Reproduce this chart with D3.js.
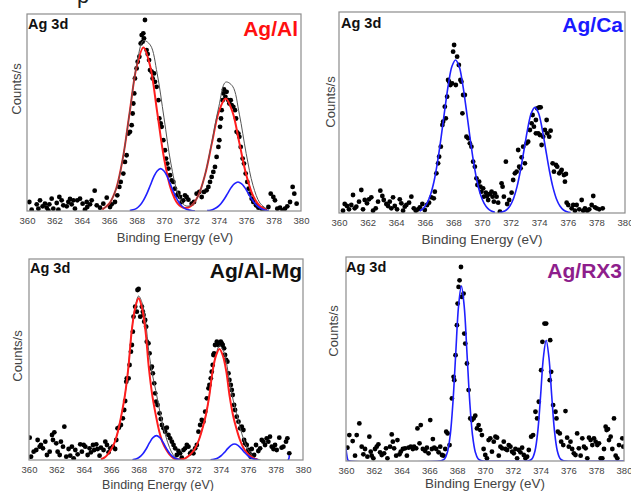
<!DOCTYPE html>
<html>
<head>
<meta charset="utf-8">
<script src="https://cdn.jsdelivr.net/npm/d3@7"></script>
<style>
  body { margin: 0; background: #fff; }
  svg { display: block; font-family: "Liberation Sans", Arial, sans-serif; }
</style>
</head>
<body>
<script>
// Binding energy ticks, shared by all four panels
const xTicks = d3.range(360, 381, 2)

// ---- Ag/Al ----  [eV, counts (arb.)]
const alPoints = [
  [360.17,27],[360.34,4],[360.71,20],[360.83,7],[360.95,32],[361.14,14],[361.31,22],[361.44,10],
  [361.56,2],[361.63,20],[361.80,37],[361.92,7],[362.17,24],[362.29,4],[362.36,42],[362.53,32],
  [362.65,17],[362.90,14],[363.02,27],[363.14,36],[363.26,20],[363.38,32],[363.50,7],[363.67,32],
  [363.87,37],[364.06,22],[364.23,4],[364.36,27],[364.40,12],[364.60,20],[364.72,32],[364.94,61],
  [365.09,17],[365.33,10],[365.57,22],[365.82,40],[366.06,12],
  [366.18,20],[366.42,27],[366.59,47],[366.74,72],[366.84,87],[367.03,112],[367.15,147],[367.27,167],
  [367.40,232],[367.52,237],[367.64,257],[367.71,292],[367.76,322],[367.83,352],[367.88,397],[368.00,427],
  [368.08,447],[368.20,462],[368.30,502],[368.37,527],[368.44,507],[368.49,532],[368.54,517],[368.61,572],
  [368.73,482],[368.81,470],[368.91,452],[368.98,422],[369.10,417],[369.17,397],[369.27,412],[369.34,387],
  [369.46,372],[369.59,332],[369.66,277],[369.76,262],[369.83,252],[369.95,212],[370.07,182],[370.15,157],
  [370.24,142],[370.32,127],[370.44,107],[370.56,92],[370.68,87],[370.80,67],[370.92,47],[371.05,54],
  [371.17,42],[371.29,27],[371.41,32],[371.53,47],[371.65,42],
  [371.78,34],[372.02,22],[372.19,27],[372.38,52],[372.58,57],[372.75,42],[372.92,57],[373.11,62],
  [373.24,72],[373.36,87],[373.48,102],[373.60,117],[373.72,132],[373.84,162],[373.97,192],[374.04,212],
  [374.09,252],[374.16,277],[374.21,302],[374.28,332],[374.33,352],[374.38,364],[374.48,342],[374.57,357],
  [374.70,332],[374.77,322],[374.87,332],[374.94,317],[375.06,312],[375.18,302],[375.26,277],[375.30,237],
  [375.43,232],[375.50,222],[375.60,192],[375.74,157],[375.84,142],[375.96,112],[376.08,87],[376.18,67],
  [376.28,52],[376.40,37],[376.52,27],[376.72,17],[376.89,10],
  [377.13,7],[377.37,2],[377.62,12],[377.79,52],[377.98,42],[378.10,32],[378.27,7],[378.47,10],
  [378.66,2],[378.83,7],[379.00,14],[379.20,27],[379.39,72],[379.51,52],[379.68,22]
]
const alRed = [
  [365.5,5],[366,22],[366.5,66],[367,159],[367.5,297],[368,432],[368.5,490],[369,432],[369.5,297],
  [370,159],[370.5,66],[371,22],[371.5,9],[372,16],[372.5,46],[373,109],[373.5,204],[374,297],
  [374.5,337],[375,297],[375.5,204],[376,109],[376.5,46],[377,15],[377.5,4]
]
const alBlue1 = [
  [367.5,1.4],[367.75,3.6],[368,8],[368.25,17],[368.5,32],[368.75,52],[369,77],[369.25,102],[369.5,120],
  [369.75,127],[370,120],[370.25,102],[370.5,77],[370.75,52],[371,32],[371.25,17],[371.5,8],[371.75,3.6],
  [372,1.4],[372.25,0.5]
]
const alBlue2 = [
  [373.15,1],[373.4,2.5],[373.65,6],[373.9,12],[374.15,22],[374.4,36],[374.65,53],[374.9,70],[375.15,82],
  [375.4,87],[375.65,82],[375.9,70],[376.15,53],[376.4,36],[376.65,22],[376.9,12],[377.15,6],[377.4,2.5],
  [377.65,1]
]
const alEnvelope = [
  [365.5,5],[366,22],[366.5,66],[367,159],[367.5,298],[368,436],[368.5,510],[369,497],[369.5,412],
  [370,279],[370.5,143],[371,54],[371.5,17],[372,17],[372.5,46],[373,110],[373.5,208],[374,312],
  [374.5,386],[375,374],[375.5,290],[376,172],[376.5,76],[377,24],[377.5,6]
]

// ---- Ag/Ca ----
const caPoints = [
  [360.28,7],[360.40,27],[360.56,21],[360.70,11],[360.86,24],[360.98,54],[361.10,14],[361.21,19],
  [361.40,34],[361.56,69],[361.68,11],[361.80,39],[361.96,29],[362.10,41],[362.26,47],[362.38,7],
  [362.57,14],[362.73,34],[362.89,67],[363.03,51],[363.13,39],[363.31,27],[363.43,21],[363.55,34],
  [363.66,14],[363.78,47],[363.90,21],[364.06,11],[364.25,41],[364.36,29],[364.48,7],[364.60,19],
  [364.71,24],[364.90,31],[365.06,49],[365.23,14],[365.37,7],[365.53,11],[365.65,17],[365.83,27],
  [366.00,9],
  [366.16,24],[366.30,31],[366.46,47],[366.63,44],[366.70,64],[366.81,119],[366.93,149],[367.00,169],
  [367.12,199],[367.23,264],[367.28,274],[367.40,319],[367.47,284],[367.56,349],[367.63,399],[367.70,394],
  [367.79,384],[367.91,389],[367.98,484],[368.05,504],[368.17,384],[368.26,469],[368.38,444],[368.49,399],
  [368.56,394],[368.63,299],[368.68,354],[368.80,354],[368.91,229],[369.03,224],[369.15,209],[369.26,199],
  [369.38,154],[369.50,139],[369.61,104],[369.68,84],[369.80,94],[369.89,79],[369.96,64],[370.08,74],
  [370.13,49],[370.27,61],[370.36,51],[370.43,39],[370.55,57],[370.67,64],[370.74,49],[370.83,34],
  [370.90,59],[371.02,49],[371.13,31],[371.25,4],[371.37,89],[371.44,79],[371.53,49],[371.67,154],
  [371.76,27],[371.90,39],
  [372.07,61],[372.18,99],[372.30,119],[372.42,124],[372.53,189],[372.60,139],[372.70,134],[372.77,167],
  [372.88,199],[373.00,149],[373.12,209],[373.23,214],[373.35,249],[373.47,269],[373.54,294],[373.63,259],
  [373.77,279],[373.77,239],[373.86,314],[373.93,239],[374.00,317],[374.05,234],[374.10,317],[374.17,204],
  [374.28,229],[374.40,249],[374.52,279],[374.56,239],[374.70,229],[374.80,247],[374.94,149],[375.03,124],
  [375.17,144],[375.26,139],[375.40,119],[375.50,124],[375.57,129],[375.73,114],[375.80,94],[375.87,117],
  [375.92,31],[376.03,24],[376.27,14],[376.38,24],[376.50,7],[376.62,24],[376.80,11],[376.97,39],
  [377.08,7],[377.20,14],[377.36,7],[377.50,11],[377.67,24],[377.78,51],[377.90,17],[378.02,14],
  [378.20,11],[378.44,14]
]
const caBlue1 = [
  [365.65,6],[365.9,14],[366.15,29],[366.4,55],[366.65,96],[366.9,156],[367.15,230],[367.4,311],
  [367.65,386],[367.9,440],[368.15,459],[368.4,440],[368.65,386],[368.9,311],[369.15,230],[369.4,156],
  [369.65,96],[369.9,55],[370.15,29],[370.4,14],[370.65,6],[370.9,2.4]
]
const caBlue2 = [
  [371.2,1.2],[371.45,3.5],[371.7,9],[371.95,21],[372.2,43],[372.45,79],[372.7,130],[372.95,192],
  [373.2,254],[373.45,300],[373.7,317],[373.95,300],[374.2,254],[374.45,192],[374.7,130],[374.95,79],
  [375.2,43],[375.45,21],[375.7,9],[375.95,3.5],[376.2,1.2]
]

// ---- Ag/Al-Mg ----
const mgPoints = [
  [360.05,67],[360.15,10],[360.34,25],[360.53,30],[360.63,60],[360.78,40],[360.87,45],[361.02,35],
  [361.19,55],[361.31,15],[361.51,25],[361.68,75],[361.75,60],[361.85,83],[361.99,50],[362.09,25],
  [362.24,15],[362.33,55],[362.48,40],[362.58,100],[362.72,10],[362.89,33],[363.01,13],[363.13,40],
  [363.26,5],[363.38,30],[363.55,17],[363.74,47],[363.86,25],[363.99,45],[364.11,40],[364.28,15],
  [364.42,35],[364.52,23],[364.67,45],[364.76,30],[364.91,47],[365.01,33],[365.15,13],[365.25,37],
  [365.44,30],[365.57,55],[365.69,45],[365.81,23],[365.93,35],[366.12,40],[366.29,33],
  [366.37,60],[366.46,95],[366.56,97],[366.71,105],[366.85,125],[366.95,150],[367.02,177],[367.10,235],
  [367.14,245],[367.27,245],[367.34,285],[367.44,325],[367.51,345],[367.58,385],[367.63,430],[367.75,460],
  [367.87,445],[367.92,510],[368.00,513],[368.12,430],[368.24,460],[368.31,445],[368.36,435],[368.41,415],
  [368.48,420],[368.55,400],[368.60,355],[368.72,350],[368.80,320],[368.89,275],[368.97,280],[369.04,260],
  [369.14,230],[369.21,200],[369.28,175],[369.38,165],[369.53,140],[369.62,123],[369.70,105],[369.82,95],
  [369.94,85],[370.06,97],[370.18,75],[370.30,65],[370.43,55],[370.55,45],[370.67,35],[370.79,15],
  [370.91,27],[371.03,20],[371.15,7],
  [371.28,30],[371.40,35],[371.52,45],[371.64,40],[371.76,20],[371.88,25],[372.00,20],[372.13,35],
  [372.25,45],
  [372.37,85],[372.49,105],[372.61,120],[372.73,115],[372.86,145],[372.98,185],[373.10,215],[373.17,225],
  [373.27,245],[373.34,265],[373.41,285],[373.46,315],[373.51,320],[373.58,345],[373.71,355],[373.83,345],
  [373.90,350],[374.00,355],[374.07,350],[374.14,345],[374.24,335],[374.31,315],[374.39,300],[374.48,295],
  [374.56,260],[374.63,240],[374.73,225],[374.80,210],[374.87,195],[374.97,165],[375.04,150],[375.16,130],
  [375.29,115],[375.41,95],[375.53,100],[375.65,90],[375.70,60],[375.77,50],[375.89,45],[376.01,30],
  [376.09,20],[376.18,10],[376.26,33],
  [376.43,15],[376.57,45],[376.74,27],[376.87,35],[376.99,60],[377.11,55],[377.23,45],[377.35,65],
  [377.47,55],[377.59,70],[377.72,40],[377.84,33],[377.96,45],[378.08,30],[378.27,67],[378.44,37],
  [378.57,40],[378.76,55],[378.86,65],[379.00,20]
]
const mgRed = [
  [365.25,2],[365.5,7],[365.75,17],[366,32],[366.25,53],[366.5,87],[366.75,136],[367,194],[367.25,276],
  [367.5,388],[367.75,456],[368,485],[368.25,456],[368.5,388],[368.75,276],[369,194],[369.25,136],
  [369.5,87],[369.75,53],[370,32],[370.25,17],[370.5,7],[370.75,2],[371.15,2],[371.4,5],[371.65,12],
  [371.9,22],[372.15,37],[372.4,60],[372.65,93],[372.9,133],[373.15,190],[373.4,266],[373.65,313],
  [373.9,333],[374.15,313],[374.4,266],[374.65,190],[374.9,133],[375.15,93],[375.4,60],[375.65,37],
  [375.9,22],[376.15,12],[376.4,5],[376.65,2]
]
const mgBlue1 = [
  [367.55,1],[367.8,3.2],[368.05,8.3],[368.3,18],[368.55,33],[368.8,52],[369.05,67],[369.3,73],
  [369.55,67],[369.8,52],[370.05,33],[370.3,18],[370.55,8.3],[370.8,3.2],[371.05,1]
]
const mgBlue2 = [
  [373.25,0.7],[373.5,2.1],[373.75,5.5],[374,12],[374.25,22],[374.5,34],[374.75,44],[375,48],
  [375.25,44],[375.5,34],[375.75,22],[376,12],[376.25,5.5],[376.5,2.1],[376.75,0.7]
]
const mgBlue3 = [[378.9,0],[378.97,4],[379.0,14]]
const mgEnvelope = [
  [365.25,2],[365.5,7],[365.75,17],[366,32],[366.25,53],[366.5,87],[366.75,136],[367,194],[367.25,276],
  [367.5,389],[367.75,459],[368,492],[368.25,472],[368.5,418],[368.75,324],[369,258],[369.25,209],
  [369.5,156],[369.75,108],[370,69],[370.25,38],[370.5,17],[370.75,6],[371,2],[371.4,5],[371.65,12],
  [371.9,22],[372.15,37],[372.4,60],[372.65,93],[372.9,133],[373.15,190],[373.4,267],[373.65,317],
  [373.9,342],[374.15,331],[374.4,295],[374.65,230],[374.9,180],[375.15,140],[375.4,98],[375.65,64],
  [375.9,38],[376.15,20],[376.4,8],[376.65,3],[376.9,0.5]
]

// ---- Ag/RX3 ----
const rxPoints = [
  [360.10,40],[360.24,78],[360.48,60],[360.65,16],[360.77,78],[360.96,113],[361.13,43],[361.25,20],
  [361.37,36],[361.54,13],[361.68,73],[361.78,28],[361.85,16],[361.97,8],[362.09,36],[362.21,43],
  [362.33,50],[362.45,26],[362.57,18],[362.74,23],[362.88,38],[362.98,8],[363.17,43],[363.29,80],
  [363.37,58],[363.46,38],[363.61,16],[363.70,63],[363.85,20],[363.94,28],[364.09,36],[364.25,38],
  [364.38,16],[364.50,40],[364.66,43],[364.81,36],[364.90,43],[365.05,38],[365.14,98],[365.29,53],
  [365.38,108],[365.53,36],[365.70,30],[365.82,40],[365.94,23],[366.06,123],[366.18,36],[366.25,66],
  [366.35,40],[366.49,36],[366.66,26],[366.78,43],[366.90,18],[367.02,16],
  [367.14,36],[367.21,88],[367.31,83],[367.45,48],[367.62,188],[367.74,253],[367.79,243],[367.88,318],
  [367.98,408],[368.03,473],[368.10,523],[368.17,543],[368.27,583],[368.34,493],[368.46,503],[368.51,383],
  [368.58,353],[368.70,293],[368.82,213],[368.94,128],[369.06,123],[369.18,128],[369.30,136],[369.42,98],
  [369.54,108],[369.66,93],[369.78,78],[369.90,36],[370.02,18],[370.14,8],[370.26,63],[370.38,68],
  [370.50,28],[370.63,58],[370.75,73],[370.87,70],[370.99,16],[371.11,43],[371.23,38],[371.35,58],
  [371.47,36],[371.59,33],[371.71,48],[371.83,43],[371.95,28],[372.07,23],[372.19,36],[372.31,8],
  [372.43,33],[372.55,26],[372.67,40],[372.79,18],[372.91,8],[373.03,13],[373.15,33],
  [373.32,73],[373.46,78],[373.63,148],[373.75,128],[373.87,178],[374.04,273],[374.13,358],[374.28,413],
  [374.40,413],[374.69,363],[374.76,268],[374.66,243],[374.90,168],[375.07,148],[375.14,128],[375.24,88],
  [375.38,83],[375.48,58],[375.63,48],[375.79,150],[375.91,70],[376.03,43],[376.15,58],[376.27,36],
  [376.39,23],[376.51,18],[376.63,83],[376.75,38],[376.88,16],[377.00,68],[377.12,43],[377.24,38],
  [377.36,8],[377.48,70],[377.60,63],[377.72,48],[377.84,68],[377.96,58],[378.08,48],[378.20,53],
  [378.32,8],[378.44,8],[378.56,36],[378.68,103],[378.75,93],[378.85,96],[378.92,63],[379.04,73],
  [379.16,36],[379.28,128],[379.40,16],[379.52,8],[379.64,48],[379.88,68],[379.95,43]
]
const rxBlue = [
  [360,38],[360.05,20],[360.1,8],[360.15,2],[360.25,0],[366.7,0],[366.9,1.5],[367.1,7],[367.3,27],
  [367.5,78],[367.7,180],[367.9,327],[368.1,467],[368.3,526],[368.5,467],[368.7,327],[368.9,180],
  [369.1,78],[369.3,27],[369.5,7],[369.7,1.5],[369.9,0],[373,0],[373.2,1.4],[373.4,7.6],[373.6,31],
  [373.8,90],[374,196],[374.2,311],[374.4,363],[374.6,311],[374.8,196],[375,90],[375.2,31],[375.4,7.6],
  [375.6,1.4],[375.8,0],[380,0]
]

const red = "#ff1e1e", blue = "#2020ff", envColor = "#555"

// frame geometry and text placement for each panel
const panels = [
  { id: "al", left: 27, right: 301, top: 14, bottom: 211, yMax: 590,
    points: alPoints,
    curves: [[alRed, red, 2], [alBlue1, blue, 1.6], [alBlue2, blue, 1.6], [alEnvelope, envColor, 1]],
    title: "Ag/Al", titleColor: "#ff1010", titleX: 298, titleY: 36,
    tagX: 28, tagY: 29, ylabX: 20.5, ylabY: 89, xlabX: 175, xlabY: 242, xlabSize: 13 },
  { id: "ca", left: 339, right: 625, top: 12, bottom: 213, yMax: 603,
    points: caPoints,
    curves: [[caBlue1, blue, 1.6], [caBlue2, blue, 1.6]],
    title: "Ag/Ca", titleColor: "#1a1aff", titleX: 623, titleY: 32,
    tagX: 341, tagY: 28, ylabX: 334.5, ylabY: 102, xlabX: 482, xlabY: 244, xlabSize: 13.5 },
  { id: "mg", left: 29, right: 303, top: 259, bottom: 460, yMax: 603,
    points: mgPoints,
    curves: [[mgEnvelope, envColor, 1], [mgRed, red, 2], [mgBlue1, blue, 1.6], [mgBlue2, blue, 1.6], [mgBlue3, blue, 1.6]],
    title: "Ag/Al-Mg", titleColor: "#111", titleX: 302, titleY: 278,
    tagX: 30, tagY: 273, ylabX: 21.5, ylabY: 356, xlabX: 158, xlabY: 489, xlabSize: 12.5 },
  { id: "rx", left: 346, right: 624, top: 257, bottom: 461, yMax: 613,
    points: rxPoints,
    curves: [[rxBlue, blue, 1.6]],
    title: "Ag/RX3", titleColor: "#8e1e8c", titleX: 622, titleY: 278,
    tagX: 346, tagY: 272, ylabX: 337.5, ylabY: 331, xlabX: 485, xlabY: 488, xlabSize: 13.4 }
]

const svg = d3.select("body").append("svg")
    .attr("width", 631)
    .attr("height", 491)

svg.append("rect").attr("width", 631).attr("height", 491).attr("fill", "#fff")

// cut-off text from the figure above
svg.append("text").attr("x", 77).attr("y", 3)
    .attr("font-size", 22).attr("fill", "#222").text("p")

panels.forEach(p => {
  let x = d3.scaleLinear().domain([360, 380]).range([p.left, p.right])
  let y = d3.scaleLinear().domain([0, p.yMax]).range([p.bottom, p.top])

  svg.append("clipPath").attr("id", "clip-" + p.id)
    .append("rect")
    .attr("x", p.left).attr("y", p.top)
    .attr("width", p.right - p.left).attr("height", p.bottom - p.top)

  let plot = svg.append("g").attr("clip-path", `url(#clip-${p.id})`)

  plot.selectAll("circle")
    .data(p.points)
    .join("circle")
    .attr("cx", d => x(d[0]))
    .attr("cy", d => y(d[1]))
    .attr("r", 2.4)
    .attr("fill", "#000")

  let line = d3.line()
    .x(d => x(d[0]))
    .y(d => y(d[1]))
    .curve(d3.curveCatmullRom)

  p.curves.forEach(([data, color, w]) => {
    plot.append("path")
      .datum(data)
      .attr("d", line)
      .attr("fill", "none")
      .attr("stroke", color)
      .attr("stroke-width", w)
  })

  // frame
  svg.append("rect")
    .attr("x", p.left).attr("y", p.top)
    .attr("width", p.right - p.left).attr("height", p.bottom - p.top)
    .attr("fill", "none")
    .attr("stroke", "#8c8c8c")
    .attr("stroke-width", 1.2)

  let axis = svg.append("g")
    .attr("transform", `translate(0,${p.bottom})`)
    .call(d3.axisBottom(x).tickValues(xTicks).tickSize(0).tickPadding(6))
  axis.select(".domain").remove()
  axis.selectAll("text")
    .attr("font-family", '"Liberation Sans", Arial, sans-serif')
    .attr("font-size", 9.5)
    .attr("fill", "#444")

  svg.append("text")
    .attr("x", p.xlabX).attr("y", p.xlabY)
    .attr("text-anchor", "middle")
    .attr("font-size", p.xlabSize)
    .attr("fill", "#444")
    .text("Binding Energy (eV)")

  svg.append("text")
    .attr("transform", `translate(${p.ylabX},${p.ylabY}) rotate(-90)`)
    .attr("text-anchor", "middle")
    .attr("font-size", 13)
    .attr("fill", "#444")
    .text("Counts/s")

  svg.append("text")
    .attr("x", p.tagX).attr("y", p.tagY)
    .attr("font-size", 14.5)
    .attr("font-weight", "bold")
    .attr("fill", "#111")
    .text("Ag 3d")

  svg.append("text")
    .attr("x", p.titleX).attr("y", p.titleY)
    .attr("text-anchor", "end")
    .attr("font-size", 21)
    .attr("font-weight", "bold")
    .attr("fill", p.titleColor)
    .text(p.title)
})
</script>
</body>
</html>
